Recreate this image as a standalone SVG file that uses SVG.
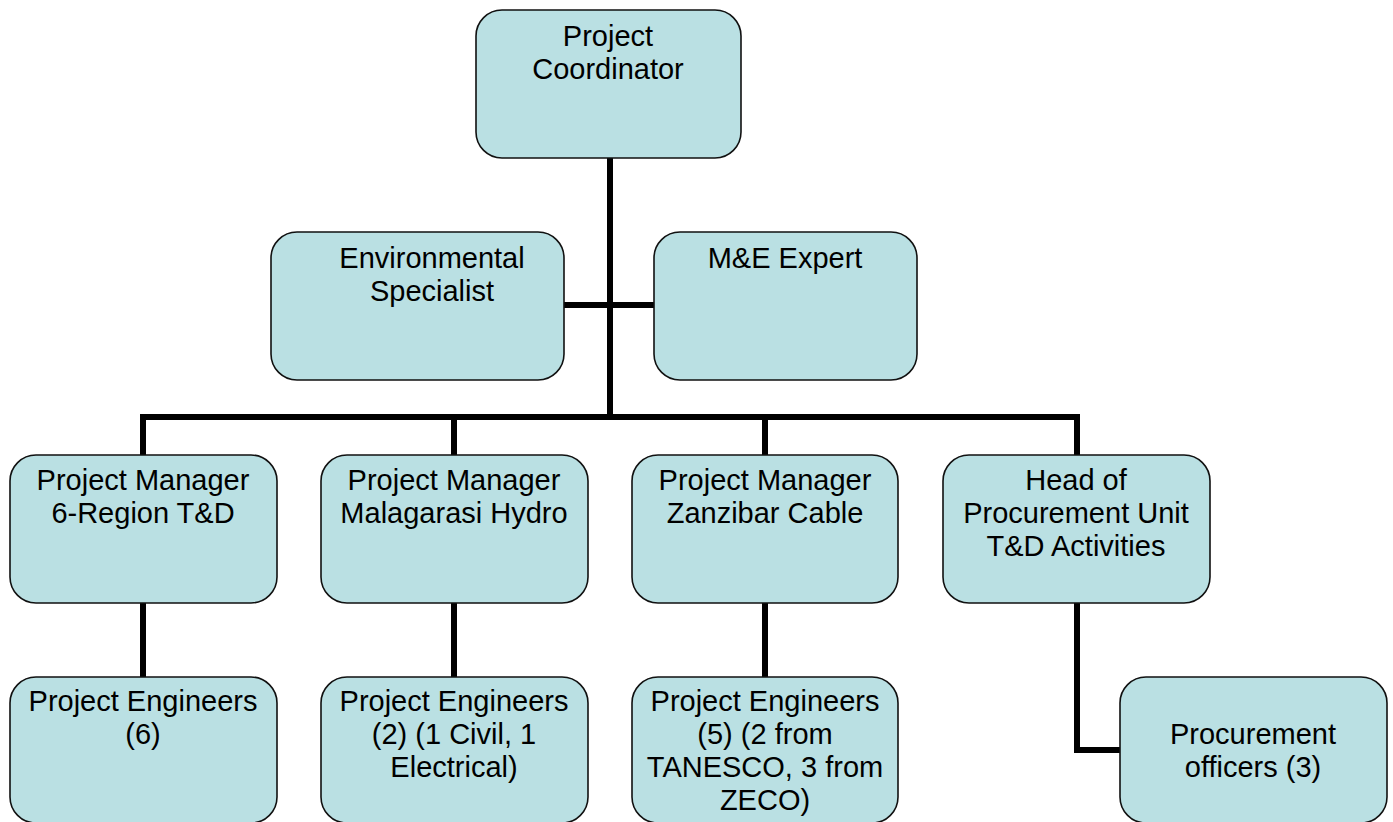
<svg xmlns="http://www.w3.org/2000/svg" width="1393" height="822" viewBox="0 0 1393 822">
<style>
.box{fill:#bae0e3;stroke:#111;stroke-width:1.6}
.t{font-family:"Liberation Sans",Arial,sans-serif;font-size:29px;fill:#000;text-anchor:middle}
.c{fill:none;stroke:#000;stroke-width:6;stroke-linejoin:miter}
</style>
<rect width="1393" height="822" fill="#fff"/>
<g id="connectors">
<path class="c" d="M610 158V417"/>
<path class="c" d="M564 305H654"/>
<path class="c" d="M143 455V417H1077V455"/>
<path class="c" d="M454 417V455"/>
<path class="c" d="M765 417V455"/>
<path class="c" d="M143 603V677"/>
<path class="c" d="M454 603V677"/>
<path class="c" d="M765 603V677"/>
<path class="c" d="M1077 603V750H1120"/>
</g>
<g id="coordinator"><rect class="box" x="476" y="10" width="265" height="148" rx="26"/>
<text class="t" x="608" y="46">Project</text><text class="t" x="608" y="79">Coordinator</text></g>
<g id="env"><rect class="box" x="271" y="232" width="293" height="148" rx="26"/>
<text class="t" x="432" y="268">Environmental</text><text class="t" x="432" y="301">Specialist</text></g>
<g id="me"><rect class="box" x="654" y="232" width="263" height="148" rx="26"/>
<text class="t" x="785" y="268">M&amp;E Expert</text></g>
<g id="pm1"><rect class="box" x="10" y="455" width="267" height="148" rx="26"/>
<text class="t" x="143" y="490">Project Manager</text><text class="t" x="143" y="523">6-Region T&amp;D</text></g>
<g id="pm2"><rect class="box" x="321" y="455" width="267" height="148" rx="26"/>
<text class="t" x="454" y="490">Project Manager</text><text class="t" x="454" y="523">Malagarasi Hydro</text></g>
<g id="pm3"><rect class="box" x="632" y="455" width="266" height="148" rx="26"/>
<text class="t" x="765" y="490">Project Manager</text><text class="t" x="765" y="523">Zanzibar Cable</text></g>
<g id="head"><rect class="box" x="943" y="455" width="267" height="148" rx="26"/>
<text class="t" x="1076" y="490">Head of</text><text class="t" x="1076" y="523">Procurement  Unit</text><text class="t" x="1076" y="556">T&amp;D Activities</text></g>
<g id="pe1"><rect class="box" x="10" y="677" width="267" height="146" rx="26"/>
<text class="t" x="143" y="711">Project Engineers</text><text class="t" x="143" y="744">(6)</text></g>
<g id="pe2"><rect class="box" x="321" y="677" width="267" height="146" rx="26"/>
<text class="t" x="454" y="711">Project Engineers</text><text class="t" x="454" y="744">(2) (1 Civil, 1</text><text class="t" x="454" y="777">Electrical)</text></g>
<g id="pe3"><rect class="box" x="632" y="677" width="266" height="146" rx="26"/>
<text class="t" x="765" y="711">Project Engineers</text><text class="t" x="765" y="744">(5) (2 from</text><text class="t" x="765" y="777">TANESCO, 3 from</text><text class="t" x="765" y="810">ZECO)</text></g>
<g id="po"><rect class="box" x="1120" y="677" width="267" height="146" rx="26"/>
<text class="t" x="1253" y="744">Procurement</text><text class="t" x="1253" y="777">officers (3)</text></g>
</svg>
